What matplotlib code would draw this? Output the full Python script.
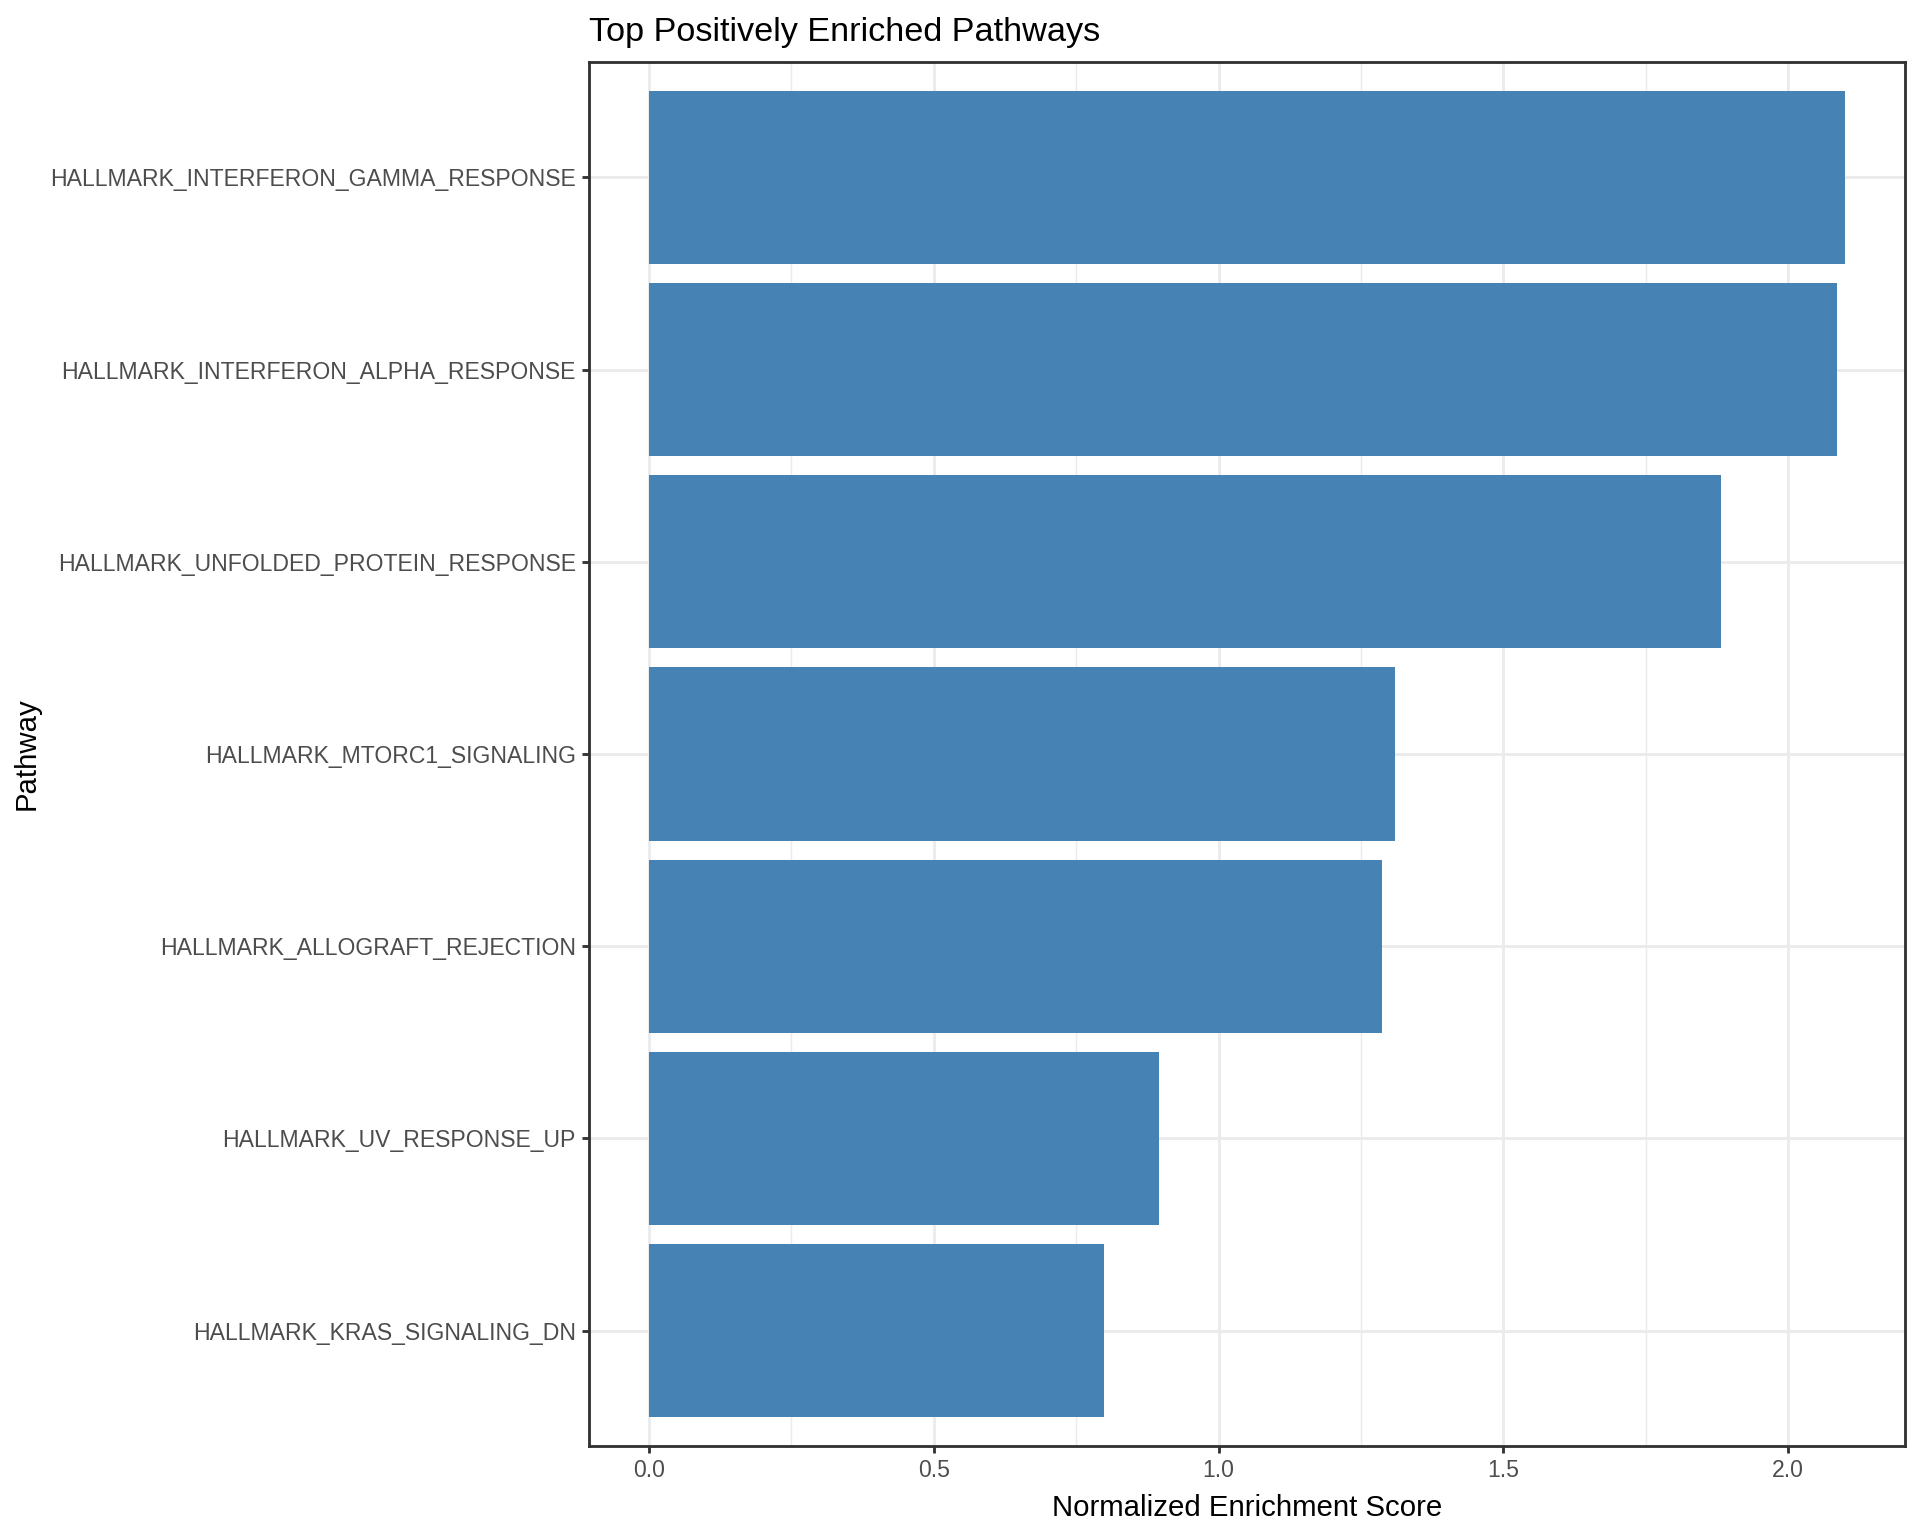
import matplotlib
matplotlib.use("Agg")
import matplotlib.pyplot as plt

# données
pathways = [
    "HALLMARK_INTERFERON_GAMMA_RESPONSE",
    "HALLMARK_INTERFERON_ALPHA_RESPONSE",
    "HALLMARK_UNFOLDED_PROTEIN_RESPONSE",
    "HALLMARK_MTORC1_SIGNALING",
    "HALLMARK_ALLOGRAFT_REJECTION",
    "HALLMARK_UV_RESPONSE_UP",
    "HALLMARK_KRAS_SIGNALING_DN",
]
nes = [2.10, 2.086, 1.882, 1.310, 1.287, 0.896, 0.799]
x_ticks = [0.0, 0.5, 1.0, 1.5, 2.0]
x_tick_labels = ["0.0", "0.5", "1.0", "1.5", "2.0"]

plt.rcParams["font.family"] = ["Liberation Sans", "DejaVu Sans"]

fig = plt.figure(figsize=(10, 8), dpi=192)
ax = fig.add_axes([589 / 1920, 1 - 1446 / 1536, (1905 - 589) / 1920, (1446 - 62) / 1536])

n = len(pathways)
pos = list(range(n, 0, -1))  # premier en haut

# grille façon theme_bw
for v in [0.25, 0.75, 1.25, 1.75]:
    ax.axvline(v, color="#EBEBEB", lw=0.55, zorder=0)
for v in x_ticks:
    ax.axvline(v, color="#EBEBEB", lw=1.07, zorder=0)
for p in pos:
    ax.axhline(p, color="#EBEBEB", lw=1.07, zorder=0)

ax.barh(pos, nes, height=0.9, color="#4682B4", zorder=2)

xmax = max(nes)
ax.set_xlim(-0.05 * xmax, 1.05 * xmax)
ax.set_ylim(0.4, n + 0.6)

ax.set_xticks(x_ticks)
ax.set_xticklabels(x_tick_labels)
ax.set_yticks(pos)
ax.set_yticklabels(pathways)
ax.tick_params(axis="both", length=2.75, width=1.07, color="#333333",
               labelsize=8.65, labelcolor="#4D4D4D", pad=2.2)

for s in ax.spines.values():
    s.set_color("#333333")
    s.set_linewidth(1.07)

ax.set_xlabel("Normalized Enrichment Score", fontsize=11, color="black", labelpad=4.5)
ax.set_ylabel("Pathway", fontsize=11, color="black")
ax.yaxis.set_label_coords((27 - 589) / 1316, 0.5)
ax.yaxis.label.set_verticalalignment("center")
ax.set_title("Top Positively Enriched Pathways", fontsize=12.85, color="black",
             loc="left", pad=8)

fig.savefig("out.png", dpi=192, facecolor="white")
